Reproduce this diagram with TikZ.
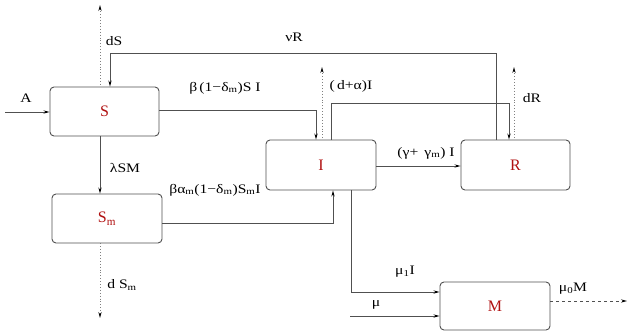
\documentclass[tikz,border=0pt]{standalone}
\usepackage{fontspec}
\setmainfont{Liberation Serif}
\newfontfamily\lblfont[FakeStretch=1.2]{Liberation Serif}
\usetikzlibrary{arrows.meta}
\definecolor{boxred}{HTML}{B01010}
\definecolor{lgray}{HTML}{505050}
\tikzset{
  box/.style={draw=lgray, line width=0.9pt, rounded corners=4pt, minimum width=#1, inner sep=0pt},
  box/.default={110pt},
  boxtxt/.style={text=boxred, font=\fontsize{16}{18}\selectfont},
  flow/.style={draw=lgray, line width=0.9pt, -{Stealth[length=6pt,width=3.2pt,black]}},
  death/.style={draw=gray, line width=0.9pt, dotted, {Stealth[length=6pt,width=3.2pt,black]}-},
  deathdown/.style={draw=gray, line width=0.9pt, dotted, -{Stealth[length=6pt,width=3.2pt,black]}},
  outflow/.style={draw=lgray, line width=0.9pt, dashed, -{Stealth[length=6pt,width=3.2pt,black]}},
  lbl/.style={font=\lblfont\fontsize{13}{15}\selectfont, inner sep=0pt}
}
\begin{document}
\begin{tikzpicture}[x=1pt,y=-1pt]
\useasboundingbox (0,0) rectangle (627,332);
% boxes
\node[box=109pt, minimum height=49pt, boxtxt] (S) at (104.5,111.5) {S};
\node[box=110pt, minimum height=49pt, boxtxt] (Sm) at (107,218.5) {S\textsubscript{m}};
\node[box=110pt, minimum height=50pt, boxtxt] (I) at (321,165) {I};
\node[box=109pt, minimum height=50pt, boxtxt] (R) at (515.5,165) {R};
\node[box=110pt, minimum height=48pt, boxtxt] (M) at (495,306) {M};
% free ends
\coordinate (Ain) at (5,112);
\coordinate (dStop) at (100,5);
\coordinate (dIt) at (322,67);
\coordinate (dRt) at (514,67);
\coordinate (dSmb) at (100,318);
\coordinate (muin) at (350,316);
\coordinate (mu0end) at (627,301);
% flows
\draw[flow] (Ain) -- (Ain -| S.west);
\node[lbl] (lA) at (26,98) {A};
\draw[death] (dStop) -- (dStop |- S.north);
\node[lbl] (ldS) at (114,41) {dS};
\draw[flow] (R.north -| 496,0) -- (496,53) -- (110,53) -- (S.north -| 110,0);
\node[lbl] (lnu) at (294,37) {νR};
\draw[flow] (S.east |- 0,110) -- (316,110) -- (I.north -| 316,0);
\node[lbl] (lbeta) at (225,88) {β\,(1−δ\textsubscript{m})S I};
\draw[death] (dIt) -- (dIt |- I.north);
\node[lbl] (ldI) at (351,86) {(\,d+α)I};
\draw[flow] (I.north -| 331,0) -- (331,103) -- (509,103) -- (R.north -| 509,0);
\draw[death] (dRt) -- (dRt |- R.north);
\node[lbl] (ldR) at (532,98) {dR};
\draw[flow] (I.east |- 0,166) -- (R.west |- 0,166);
\node[lbl] (lgam) at (426,153) {(γ+\, γ\textsubscript{m}) I};
\draw[flow] (S.south -| 100,0) -- (Sm.north -| 100,0);
\node[lbl] (llam) at (125,168) {λSM};
\draw[flow] (Sm.east |- 0,223) -- (333,223) -- (I.south -| 333,0);
\node[lbl] (lba) at (215,190) {βα\textsubscript{m}(1−δ\textsubscript{m})S\textsubscript{m}I};
\draw[deathdown] (Sm.south -| 100,0) -- (dSmb);
\node[lbl] (ldSm) at (122,285) {d S\textsubscript{m}};
\draw[flow] (I.south -| 351,0) -- (351,292) -- (M.west |- 0,292);
\node[lbl] (lmu1) at (405,272) {μ\textsubscript{1}I};
\draw[flow] (muin) -- (M.west |- muin);
\node[lbl] (lmu) at (376,305) {μ};
\draw[outflow] (M.east |- mu0end) -- (mu0end);
\node[lbl] (lmu0) at (573,289) {μ\textsubscript{0}M};
\end{tikzpicture}
\end{document}
